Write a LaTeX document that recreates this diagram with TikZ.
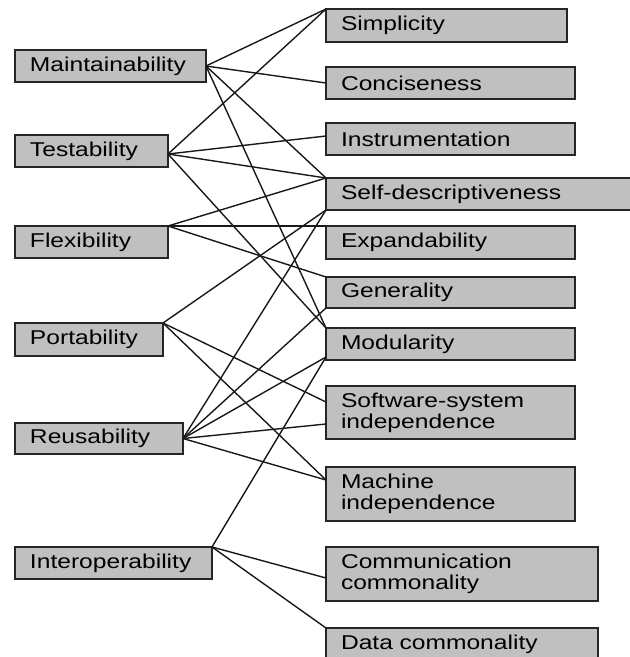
\documentclass[tikz,border=0pt]{standalone}
\usepackage{fontspec}
\newfontfamily\boxfont[FakeStretch=1.23]{Liberation Sans}
\usetikzlibrary{calc}
\definecolor{boxgray}{HTML}{C0C0C0}
\definecolor{edgegray}{HTML}{262626}
\begin{document}
\begin{tikzpicture}[x=1pt,y=-1pt,
  qbox/.style={draw=edgegray, fill=boxgray, line width=1.5pt, inner xsep=15pt,
    inner ysep=0pt, outer sep=0pt, anchor=north west, align=left,
    font=\boxfont\fontsize{20}{21}\selectfont, minimum height=32pt},
  link/.style={draw=black!90, line width=1.4pt}]
\useasboundingbox (0,0) rectangle (630,657);
% left column
\node[qbox, text width=161pt] (M) at (15,50) {Maintainability};
\node[qbox, text width=123pt] (T) at (15,135) {Testability};
\node[qbox, text width=123pt] (F) at (15,226) {Flexibility};
\node[qbox, text width=118pt, minimum height=33pt] (P) at (15,323) {Portability};
\node[qbox, text width=138pt, minimum height=31pt] (R) at (15,423) {Reusability};
\node[qbox, text width=167pt] (I) at (15,547) {Interoperability};
% right column
\node[qbox, text width=211pt, minimum height=33pt] (Simp) at (326,9) {Simplicity};
\node[qbox, text width=219pt] (Conc) at (326,67) {Conciseness};
\node[qbox, text width=219pt] (Instr) at (326,123) {Instrumentation};
\node[qbox, text width=280pt] (Self) at (326,178) {Self-descriptiveness};
\node[qbox, text width=219pt, minimum height=33pt] (Expd) at (326,226) {Expandability};
\node[qbox, text width=219pt, minimum height=31pt] (Gen) at (326,277) {Generality};
\node[qbox, text width=219pt] (Mod) at (326,328) {Modularity};
\node[qbox, text width=219pt, minimum height=53pt] (SWS) at (326,386) {Software-system\\independence};
\node[qbox, text width=219pt, minimum height=54pt] (Mach) at (326,467) {Machine\\independence};
\node[qbox, text width=242pt, minimum height=54pt] (Comm) at (326,547) {Communication\\commonality};
\node[qbox, text width=242pt] (Data) at (326,628) {Data commonality};
% connectors
\draw[link] (M.east) -- (Simp.north west);
\draw[link] (M.east) -- (Conc.west);
\draw[link] (M.east) -- (Self.north west);
\draw[link] (M.east) -- (Mod.north west);
\draw[link] ($(T.east)+(0,3)$) -- (Simp.north west);
\draw[link] ($(T.east)+(0,3)$) -- ($(Instr.west)+(0,-3)$);
\draw[link] ($(T.east)+(0,3)$) -- (Self.north west);
\draw[link] ($(T.east)+(0,3)$) -- (Mod.north west);
\draw[link] (F.north east) -- (Self.north west);
\draw[link] (F.north east) -- (Expd.north west);
\draw[link] (F.north east) -- (Gen.north west);
\draw[link] (P.north east) -- (Self.south west);
\draw[link] (P.north east) -- ($(SWS.north west)+(0,16)$);
\draw[link] (P.north east) -- ($(Mach.north west)+(0,13)$);
\draw[link] (R.east) -- (Self.south west);
\draw[link] (R.east) -- (Gen.south west);
\draw[link] (R.east) -- ($(Mod.south west)+(0,-3)$);
\draw[link] (R.east) -- ($(SWS.north west)+(0,38)$);
\draw[link] (R.east) -- ($(Mach.north west)+(0,13)$);
\draw[link] (I.north east) -- ($(Mod.south west)+(0,-3)$);
\draw[link] (I.north east) -- ($(Comm.north west)+(0,31)$);
\draw[link] (I.north east) -- (Data.north west);
\end{tikzpicture}
\end{document}
